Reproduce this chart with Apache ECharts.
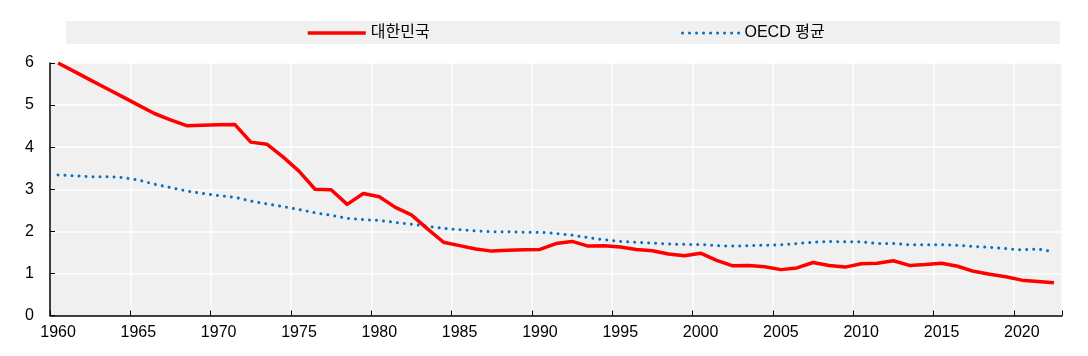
<!DOCTYPE html>
<html>
<head>
<meta charset="utf-8">
<script src="https://cdn.jsdelivr.net/npm/echarts@6/dist/echarts.min.js"></script>
<style>
html,body{margin:0;padding:0;background:#fff;}
#c{width:1088px;height:356px;}
</style>
</head>
<body>
<div id="c"></div>
<script>
const years = [];
for (let y = 1960; y <= 2022; y++) years.push(String(y));

const seriesNames = ['대한민국', 'OECD 평균'];

const korea = [
  6.00, 5.80, 5.60, 5.40, 5.20, 5.00, 4.80, 4.65, 4.51, 4.52,
  4.53, 4.54, 4.12, 4.07, 3.77, 3.43, 3.00, 2.99, 2.64, 2.90,
  2.82, 2.57, 2.39, 2.06, 1.74, 1.66, 1.58, 1.53, 1.55, 1.56,
  1.57, 1.71, 1.76, 1.65, 1.66, 1.63, 1.57, 1.54, 1.46, 1.42,
  1.48, 1.31, 1.18, 1.19, 1.16, 1.09, 1.13, 1.26, 1.19, 1.15,
  1.23, 1.24, 1.30, 1.19, 1.21, 1.24, 1.17, 1.05, 0.98, 0.92,
  0.84, 0.81, 0.78
];

const oecd = [
  3.34, 3.32, 3.30, 3.30, 3.28, 3.22, 3.12, 3.04, 2.96, 2.90,
  2.85, 2.81, 2.72, 2.65, 2.59, 2.52, 2.44, 2.38, 2.31, 2.28,
  2.26, 2.21, 2.17, 2.12, 2.07, 2.04, 2.01, 1.99, 1.99, 1.98,
  1.98, 1.95, 1.91, 1.85, 1.80, 1.76, 1.74, 1.72, 1.70, 1.69,
  1.69, 1.66, 1.65, 1.66, 1.67, 1.68, 1.71, 1.74, 1.76, 1.75,
  1.75, 1.71, 1.71, 1.68, 1.68, 1.68, 1.67, 1.64, 1.62, 1.59,
  1.56, 1.58, 1.51
];

const FONT = '"Liberation Sans", "Noto Sans CJK KR", sans-serif';
const RED = '#ff0000';
const BLUE = '#0a6fbd';
const DOT = [0.01, 7];

const chart = echarts.init(document.getElementById('c'), null, {renderer: 'canvas'});
chart.setOption({
  animation: false,
  graphic: [{
    type: 'rect', left: 66, top: 21, z: -10,
    shape: {width: 994, height: 23},
    style: {fill: '#f0f0f0'}
  }],
  legend: [
    {
      data: [seriesNames[0]], left: 306, top: 25, padding: 0,
      itemWidth: 58, itemHeight: 14, itemGap: 0,
      itemStyle: {opacity: 0},
      lineStyle: {color: RED, width: 3.5, type: 'solid'},
      textStyle: {fontFamily: FONT, fontSize: 16, color: '#000'}
    },
    {
      data: [seriesNames[1]], left: 681, top: 25, padding: 0,
      itemWidth: 57, itemHeight: 14, itemGap: 0,
      itemStyle: {opacity: 0},
      lineStyle: {color: BLUE, width: 3, type: DOT, cap: 'round'},
      textStyle: {fontFamily: FONT, fontSize: 16, color: '#000'}
    }
  ],
  grid: {
    left: 50, right: 26, top: 63, bottom: 40.5,
    show: true, backgroundColor: '#f0f0f0', borderWidth: 0,
    containLabel: false
  },
  xAxis: {
    type: 'category', data: years, boundaryGap: true,
    axisLine: {lineStyle: {color: '#000', width: 1.5}},
    axisTick: {show: true, inside: true, length: 5, interval: 4, lineStyle: {color: '#000', width: 1}},
    axisLabel: {interval: 4, fontFamily: FONT, fontSize: 16, color: '#000', margin: 9},
    splitLine: {show: true, interval: 4, lineStyle: {color: '#fff', width: 1.5}}
  },
  yAxis: {
    type: 'value', min: 0, max: 6, interval: 1,
    axisLine: {show: true, lineStyle: {color: '#000', width: 1.5}},
    axisTick: {show: true, inside: true, length: 5, lineStyle: {color: '#000', width: 1}},
    axisLabel: {fontFamily: FONT, fontSize: 16, color: '#000', margin: 16},
    splitLine: {show: true, lineStyle: {color: '#fff', width: 1.5}}
  },
  series: [
    {
      name: seriesNames[0], type: 'line', data: korea,
      symbol: 'none', z: 3,
      lineStyle: {color: RED, width: 3.5, join: 'round'},
      itemStyle: {color: RED}
    },
    {
      name: seriesNames[1], type: 'line', data: oecd,
      symbol: 'none', z: 2,
      lineStyle: {color: BLUE, width: 3, type: DOT, cap: 'round'},
      itemStyle: {color: BLUE}
    }
  ]
});
</script>
</body>
</html>
